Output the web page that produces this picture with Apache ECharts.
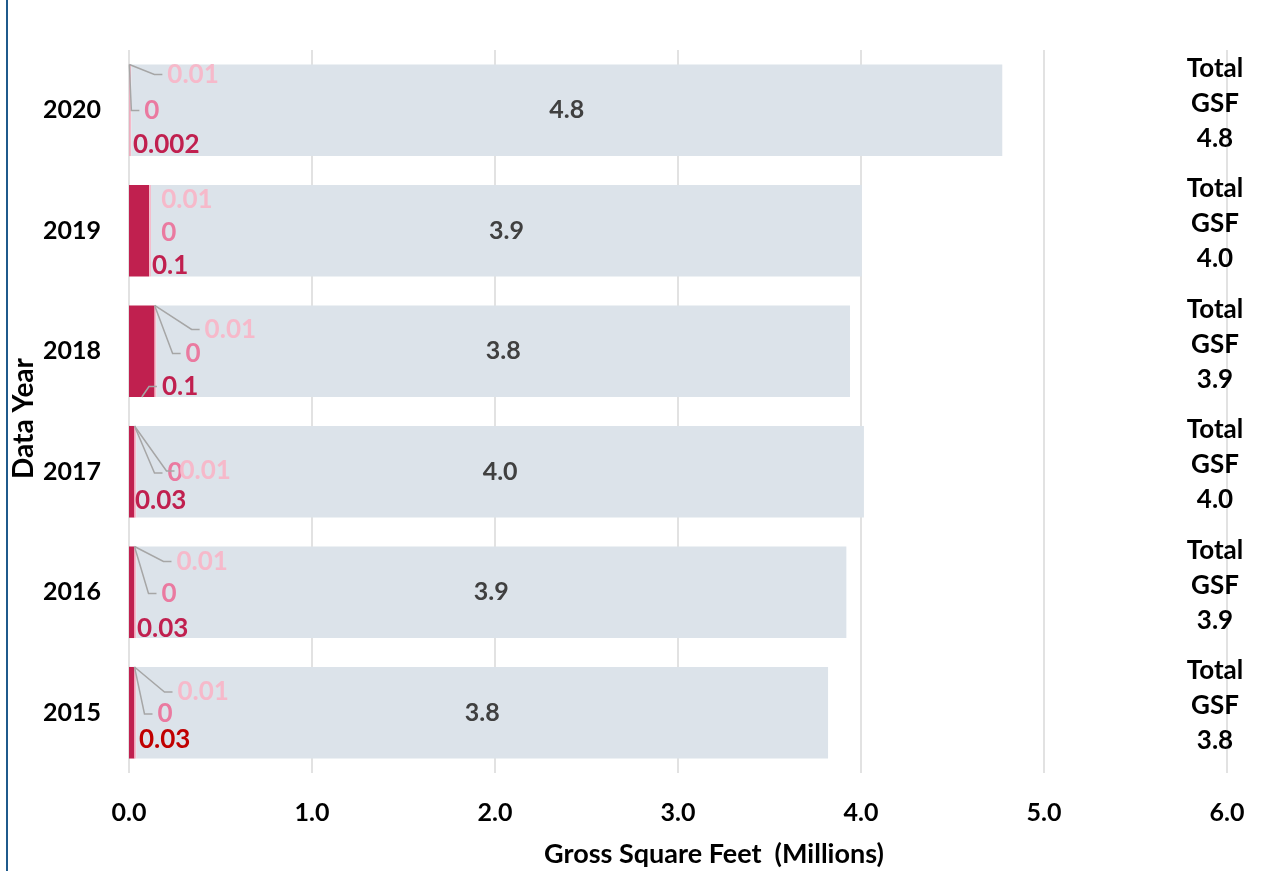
<!DOCTYPE html>
<html>
<head>
<meta charset="utf-8">
<script src="https://cdn.jsdelivr.net/npm/echarts@6/dist/echarts.min.js"></script>
<style>
html,body{margin:0;padding:0;background:#fff;}
#chart{width:1262px;height:871px;}
</style>
</head>
<body>
<div id="chart"></div>
<script>
// ---- data (bottom to top) ----
const years = ['2015', '2016', '2017', '2018', '2019', '2020'];
const seriesA = [0.03, 0.03, 0.03, 0.14, 0.11, 0.002];   // dark red
const seriesB = [0, 0, 0, 0, 0, 0];                      // pink
const seriesC = [0.01, 0.01, 0.01, 0.01, 0.01, 0.01];    // light pink
const seriesD = [3.78, 3.88, 3.976, 3.79, 3.885, 4.76];  // grey
const xTicks = [0, 1, 2, 3, 4, 5, 6];

const totals = years.map((y, i) => seriesA[i] + seriesB[i] + seriesC[i] + seriesD[i]);

// ---- label styling (offsets relative to segment start / bar top) ----
const FONT = 'Lato';
const COL_A = '#c0204f', COL_B = '#ea7aa0', COL_C = '#f6b9ca', COL_D = '#dce3ea';
const labelLayoutA = [
  {dx: 10, dy: 73, color: '#c00000'}, {dx: 8, dy: 82}, {dx: 6, dy: 75},
  {dx: 33, dy: 81, line: 'bottom'}, {dx: 23, dy: 81}, {dx: 4, dy: 80}
];
const labelLayoutB = [
  {dx: 23, dy: 47, line: 'top'}, {dx: 27, dy: 47, line: 'top'}, {dx: 33, dy: 47, line: 'top'},
  {dx: 31, dy: 48, line: 'top'}, {dx: 12, dy: 48}, {dx: 15, dy: 46, line: 'top'}
];
const labelLayoutC = [
  {dx: 43, dy: 25, line: 'top'}, {dx: 42, dy: 15, line: 'top'}, {dx: 45, dy: 45, line: 'top'},
  {dx: 50, dy: 24, line: 'top'}, {dx: 12, dy: 15}, {dx: 38, dy: 10, line: 'top'}
];
const BAR_FRAC = 0.76;

function fmtSmall(v) {
  if (v === 0) return '0';
  if (v >= 0.1) return v.toFixed(1);
  return String(v);
}

const chart = echarts.init(document.getElementById('chart'), null, {renderer: 'canvas'});

function renderAnn(params, api) {
  const i = params.dataIndex;
  const c0 = api.coord([0, i]);
  const cy = c0[1];
  const bandH = api.size([0, 1])[1];
  const barH = bandH * BAR_FRAC;
  const top = cy - barH / 2, bottom = cy + barH / 2;
  const xA0 = c0[0];
  const xA1 = api.coord([seriesA[i], i])[0];
  const xB1 = api.coord([seriesA[i] + seriesB[i], i])[0];
  const children = [];
  const items = [
    {segX: xA0, segEnd: xA1, val: seriesA[i], lay: labelLayoutA[i], color: COL_A},
    {segX: xA1, segEnd: xB1, val: seriesB[i], lay: labelLayoutB[i], color: COL_B},
    {segX: xB1, segEnd: xB1, val: seriesC[i], lay: labelLayoutC[i], color: COL_C}
  ];
  items.forEach(it => {
    const lx = it.segX + it.lay.dx;
    const ly = top + it.lay.dy;
    if (it.lay.line) {
      let anchor;
      if (it.lay.line === 'top') anchor = [it.segX, top];
      else anchor = [(it.segX + it.segEnd) / 2, bottom];
      children.push({
        type: 'polyline',
        shape: {points: [anchor, [lx - 13, ly], [lx - 5, ly]]},
        style: {stroke: '#a6a6a6', lineWidth: 1.5, fill: null}
      });
    }
    children.push({
      type: 'text',
      x: lx, y: ly,
      style: {
        text: fmtSmall(it.val),
        fill: it.lay.color || it.color,
        font: 'bold 26px ' + FONT,
        textAlign: 'left',
        textVerticalAlign: 'middle'
      }
    });
  });
  return {type: 'group', children: children};
}

const option = {
  animation: false,
  backgroundColor: '#ffffff',
  textStyle: {fontFamily: FONT},
  graphic: [{
    type: 'rect', silent: true,
    shape: {x: 6, y: 0, width: 2, height: 871},
    style: {fill: '#1f5a8c'}
  }],
  grid: {left: 129, right: 35, top: 50, bottom: 98, containLabel: false, outerBoundsMode: 'none'},
  xAxis: {
    type: 'value', min: 0, max: 6, interval: 1,
    axisLine: {show: false}, axisTick: {show: false},
    splitLine: {show: true, lineStyle: {color: '#d9d9d9', width: 1.5}},
    axisLabel: {
      margin: 27, color: '#000', fontWeight: 'bold', fontSize: 25, fontFamily: FONT,
      formatter: v => xTicks.indexOf(v) >= 0 ? v.toFixed(1) : ''
    },
    name: 'Gross Square Feet  (Millions)',
    nameLocation: 'middle', nameGap: 68, nameMoveOverlap: false,
    nameTextStyle: {color: '#000', fontWeight: 'bold', fontSize: 27, fontFamily: FONT, padding: [0, 0, 0, 72]}
  },
  yAxis: [{
    type: 'category', data: years,
    axisLine: {show: false}, axisTick: {show: false},
    axisLabel: {margin: 28, color: '#000', fontWeight: 'bold', fontSize: 25, fontFamily: FONT, interval: 0},
    name: 'Data Year', nameLocation: 'middle', nameRotate: 90, nameGap: 91, nameMoveOverlap: false,
    nameTextStyle: {color: '#000', fontWeight: 'bold', fontSize: 28, fontFamily: FONT, padding: [0, 14, 0, 0]}
  }, {
    type: 'category', data: years, position: 'right',
    axisLine: {show: false}, axisTick: {show: false},
    axisLabel: {
      interval: 0, showMinLabel: true, showMaxLabel: true, hideOverlap: false,
      margin: -12, align: 'center', color: '#000', fontWeight: 'bold', fontSize: 26, fontFamily: FONT,
      formatter: (v, i) => '{a|Total}\n{a|GSF}\n{a|' + totals[i].toFixed(1) + '}\n{s|}',
      rich: {
        a: {lineHeight: 35, fontSize: 26, fontWeight: 'bold', fontFamily: FONT, color: '#000', align: 'center'},
        s: {lineHeight: 14, fontSize: 10}
      }
    }
  }],
  series: [
    {type: 'bar', stack: 'gsf', data: seriesA, barCategoryGap: '24%', itemStyle: {color: COL_A}, silent: true},
    {type: 'bar', stack: 'gsf', data: seriesB, barCategoryGap: '24%', itemStyle: {color: COL_B}, silent: true},
    {type: 'bar', stack: 'gsf', data: seriesC, barCategoryGap: '24%', itemStyle: {color: COL_C}, silent: true},
    {type: 'bar', stack: 'gsf', data: seriesD, barCategoryGap: '24%', itemStyle: {color: COL_D}, silent: true,
      label: {show: true, position: 'inside', color: '#404040', fontWeight: 'bold', fontSize: 25, fontFamily: FONT,
        formatter: p => p.value.toFixed(1)}},
    {type: 'custom', coordinateSystem: 'cartesian2d', silent: true, z: 10,
      data: years.map((y, i) => [0, i]), encode: {x: 0, y: 1},
      renderItem: renderAnn}
  ]
};
chart.setOption(option);
</script>
</body>
</html>
